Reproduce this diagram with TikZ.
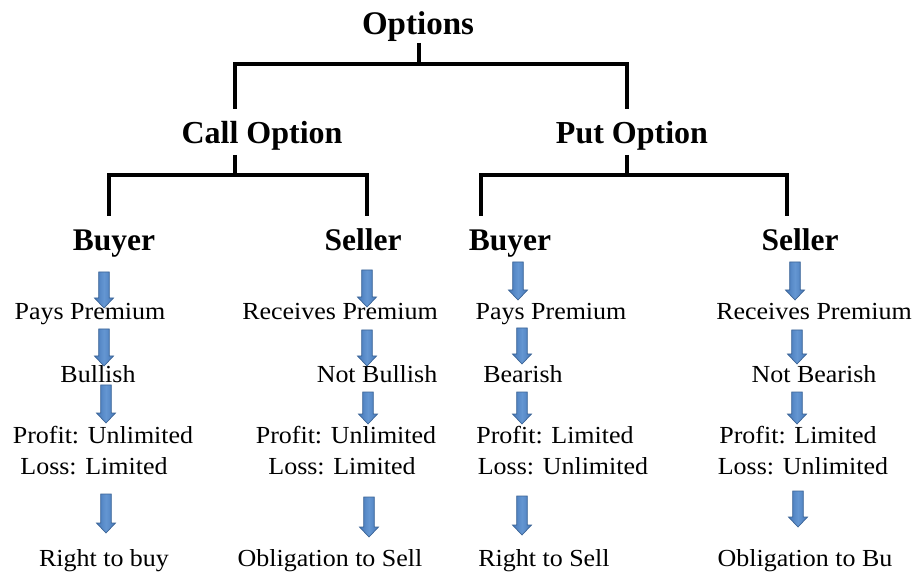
\documentclass[tikz,border=0pt]{standalone}
\usepackage{fontspec}
\setmainfont{Liberation Serif}
\newfontfamily\regfont{Liberation Serif}[FakeStretch=1.06]
\usetikzlibrary{calc}
\definecolor{arrfill}{RGB}{70,120,184}
\definecolor{arrlight}{RGB}{100,150,210}
\definecolor{arredge}{RGB}{60,100,150}
\tikzset{
  titletext/.style={inner sep=0pt, anchor=base, font=\bfseries\fontsize{33}{36}\selectfont},
  headtext/.style={inner sep=0pt, anchor=base, font=\bfseries\fontsize{32}{36}\selectfont},
  roletext/.style={inner sep=0pt, anchor=base, font=\bfseries\fontsize{31.5}{34}\selectfont},
  lbltext/.style={inner sep=0pt, anchor=base, font=\regfont\fontsize{24.5}{28}\selectfont},
  tree/.style={line width=3.8pt, black, line join=miter},
  blk/.style={left color=arrfill, right color=arrfill, middle color=arrlight, draw=arredge, line width=0.7pt, line join=miter}
}
\newcommand\blockarrow[2]{%
  \path[blk] let \p1=(#1), \p2=(#2) in
    (\x1-5.3pt,\y1) -- (\x1+5.3pt,\y1) -- (\x1+5.3pt,\y2+10pt) -- (\x1+9.5pt,\y2+10pt)
    -- (\x1,\y2) -- (\x1-9.5pt,\y2+10pt) -- (\x1-5.3pt,\y2+10pt) -- cycle;}
\begin{document}
\begin{tikzpicture}[x=1pt,y=-1pt]
\fill[white] (0,0) rectangle (914,572);
\useasboundingbox (0,0) rectangle (914,572);

% titles
\node[titletext] (opt) at (418,35) {Options};
\node[headtext] (call) at (262,144) {Call Option};
\node[headtext] (put) at (632,144) {Put Option};
\node[roletext] (cb) at (114,251) {Buyer};
\node[roletext] (cs) at (363,251) {Seller};
\node[roletext] (pb) at (510,251) {Buyer};
\node[roletext] (ps) at (800,251) {Seller};

% tree connectors
\coordinate (optS) at (419,43);
\coordinate (b0) at (419,64);
\coordinate (callN) at (235,109);
\coordinate (putN) at (627,109);
\draw[tree] (optS) -- (b0);
\draw[tree] (callN) |- (b0) -| (putN);

\coordinate (callS) at (235,155);
\coordinate (b1) at (235,175);
\coordinate (cbN) at (109,216);
\coordinate (csN) at (367,216);
\draw[tree] (callS) -- (b1);
\draw[tree] (cbN) |- (b1) -| (csN);

\coordinate (putS) at (627,155);
\coordinate (b2) at (627,175);
\coordinate (pbN) at (481,216);
\coordinate (psN) at (787,216);
\draw[tree] (putS) -- (b2);
\draw[tree] (pbN) |- (b2) -| (psN);

% column 1: call buyer
\node[lbltext] (c1a) at (90,320) {Pays Premium};
\node[lbltext] (c1b) at (98,382) {Bullish};
\node[lbltext] (c1c) at (103,443) {Profit: Unlimited};
\node[lbltext] (c1d) at (94,474) {Loss: Limited};
\node[lbltext] (c1e) at (104,566) {Right to buy};

% column 2: call seller
\node[lbltext] (c2a) at (340,320) {Receives Premium};
\node[lbltext] (c2b) at (377,382) {Not Bullish};
\node[lbltext] (c2c) at (346,443) {Profit: Unlimited};
\node[lbltext] (c2d) at (342,474) {Loss: Limited};
\node[lbltext] (c2e) at (330,566) {Obligation to Sell};

% column 3: put buyer
\node[lbltext] (c3a) at (551,320) {Pays Premium};
\node[lbltext] (c3b) at (523,382) {Bearish};
\node[lbltext] (c3c) at (555,443) {Profit: Limited};
\node[lbltext] (c3d) at (563,474) {Loss: Unlimited};
\node[lbltext] (c3e) at (544,566) {Right to Sell};

% column 4: put seller
\node[lbltext] (c4a) at (814,320) {Receives Premium};
\node[lbltext] (c4b) at (814,382) {Not Bearish};
\node[lbltext] (c4c) at (798,443) {Profit: Limited};
\node[lbltext] (c4d) at (803,474) {Loss: Unlimited};
\node[lbltext] (c4e) at (805,566) {Obligation to Bu};

% arrow end points
\coordinate (a11s) at (104,272); \coordinate (a11e) at (104,308);
\coordinate (a12s) at (104,329); \coordinate (a12e) at (104,366);
\coordinate (a13s) at (106,385); \coordinate (a13e) at (106,423);
\coordinate (a14s) at (106,494); \coordinate (a14e) at (106,533);

\coordinate (a21s) at (367,270); \coordinate (a21e) at (367,307);
\coordinate (a22s) at (367,330); \coordinate (a22e) at (367,366);
\coordinate (a23s) at (368,392); \coordinate (a23e) at (368,424);
\coordinate (a24s) at (369,497); \coordinate (a24e) at (369,537);

\coordinate (a31s) at (518,262); \coordinate (a31e) at (518,300);
\coordinate (a32s) at (522,328); \coordinate (a32e) at (522,364);
\coordinate (a33s) at (522,392); \coordinate (a33e) at (522,424);
\coordinate (a34s) at (522,496); \coordinate (a34e) at (522,535);

\coordinate (a41s) at (795,262); \coordinate (a41e) at (795,300);
\coordinate (a42s) at (797,330); \coordinate (a42e) at (797,364);
\coordinate (a43s) at (797,392); \coordinate (a43e) at (797,424);
\coordinate (a44s) at (798,491); \coordinate (a44e) at (798,527);

\blockarrow{a11s}{a11e}\blockarrow{a12s}{a12e}\blockarrow{a13s}{a13e}\blockarrow{a14s}{a14e}
\blockarrow{a21s}{a21e}\blockarrow{a22s}{a22e}\blockarrow{a23s}{a23e}\blockarrow{a24s}{a24e}
\blockarrow{a31s}{a31e}\blockarrow{a32s}{a32e}\blockarrow{a33s}{a33e}\blockarrow{a34s}{a34e}
\blockarrow{a41s}{a41e}\blockarrow{a42s}{a42e}\blockarrow{a43s}{a43e}\blockarrow{a44s}{a44e}
\end{tikzpicture}
\end{document}
